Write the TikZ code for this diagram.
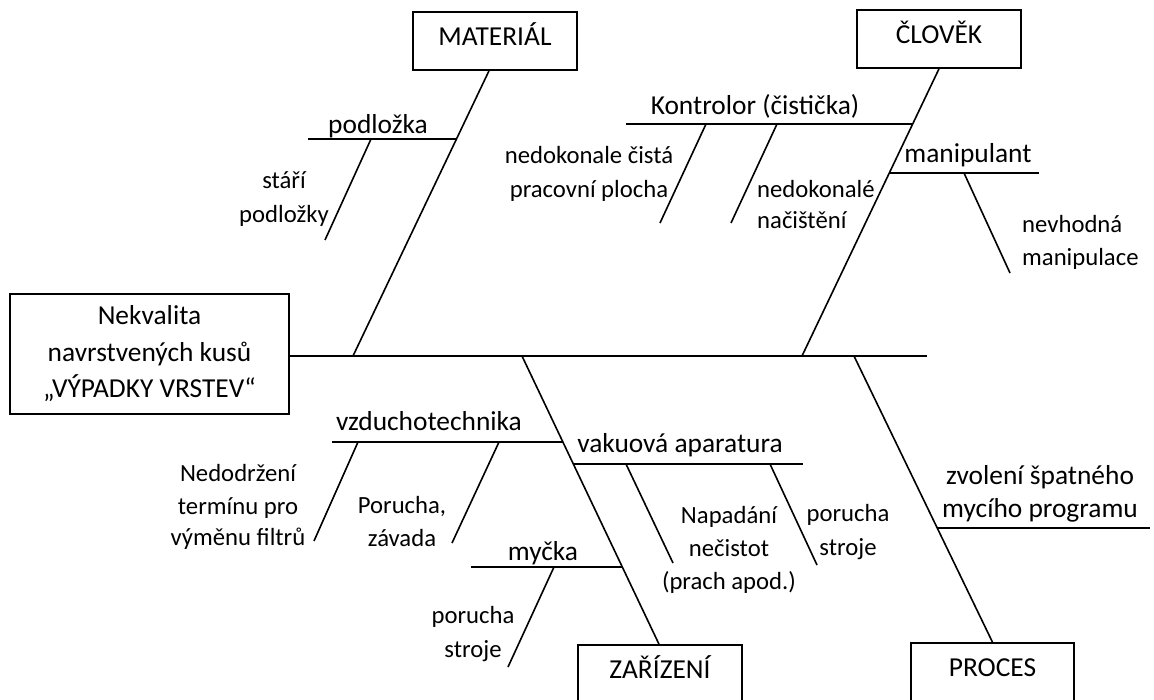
\documentclass[tikz,border=0pt]{standalone}
\usepackage{fontspec}
\setmainfont{Carlito}
\begin{document}
\begin{tikzpicture}[x=1pt,y=-1pt,
  bigf/.style={font=\fontsize{27.4}{33}\selectfont},
  smallf/.style={font=\fontsize{24.7}{33}\selectfont},
  lbl/.style={anchor=base, inner sep=0pt, text=black},
  lblL/.style={anchor=base west, inner sep=0pt, text=black},
  box/.style={draw, line width=1.6pt, inner sep=0pt, minimum height=58pt, minimum width=164pt, text height=20pt, text depth=11pt, bigf},
  bone/.style={draw, line width=1.6pt, line cap=butt}]
\useasboundingbox (0,0) rectangle (1154,699);
\clip (0,0) rectangle (1154,699);

% ---------- boxes ----------
\node[draw, line width=1.6pt, inner sep=0pt, minimum width=279pt, minimum height=120pt, align=center, font=\fontsize{27.4}{36.5}\selectfont] (head) at (149.5,354) {Nekvalita\\navrstvených kusů\\„VÝPADKY VRSTEV“};
\node[box] (mat) at (495,41) {MATERIÁL};
\node[box] (clo) at (939,39) {ČLOVĚK};
\node[box] (zar) at (660,674) {ZAŘÍZENÍ};
\node[box, minimum width=163pt] (pro) at (992.5,672) {PROCES};

% ---------- spine ----------
\coordinate (spS) at (289,356);
\coordinate (spE) at (927,356);
\draw[bone] (spS) -- (spE);

% ---------- main bones ----------
\coordinate (mB) at (353,356);
\coordinate (cB) at (802,356);
\coordinate (zB) at (522,356);
\coordinate (pB) at (854,356);
\draw[bone] ([xshift=-6pt]mat.south) -- (mB);
\draw[bone] (clo.south) -- (cB);
\draw[bone] (zB) -- ([xshift=-1pt]zar.north);
\draw[bone] (pB) -- (pro.north);

% ---------- MATERIAL ----------
\coordinate (podA) at (308,139);
\coordinate (podB) at (456.2,139);
\draw[bone] (podA) -- (podB);
\coordinate (podS1) at (371,139);
\coordinate (podS2) at (325,240);
\draw[bone] (podS1) -- (podS2);
\node[lbl, bigf] (tpod) at (378,133) {podložka};
\node[lbl, smallf] (tst1) at (284,188) {stáří};
\node[lbl, smallf] (tst2) at (284,222) {podložky};

% ---------- CLOVEK ----------
\coordinate (konA) at (626,124);
\coordinate (konB) at (912.4,124);
\draw[bone] (konA) -- (konB);
\coordinate (konS1a) at (706,124);
\coordinate (konS1b) at (660,223);
\draw[bone] (konS1a) -- (konS1b);
\coordinate (konS2a) at (777,124);
\coordinate (konS2b) at (731,223);
\draw[bone] (konS2a) -- (konS2b);
\node[lbl, bigf] (tkon) at (755,114) {Kontrolor (čistička)};
\node[lbl, smallf] (tnc1) at (589,163) {nedokonale čistá};
\node[lbl, smallf] (tnc2) at (589,197) {pracovní plocha};
\node[lblL, smallf] (tnn1) at (757,197) {nedokonalé};
\node[lblL, smallf] (tnn2) at (757,228) {načištění};

\coordinate (manA) at (889.1,173);
\coordinate (manB) at (1039,173);
\draw[bone] (manA) -- (manB);
\coordinate (manS1) at (964,173);
\coordinate (manS2) at (1010,273);
\draw[bone] (manS1) -- (manS2);
\node[lbl, bigf] (tman) at (968,162) {manipulant};
\node[lblL, smallf] (tnv1) at (1022,232) {nevhodná};
\node[lblL, smallf] (tnv2) at (1022,265) {manipulace};

% ---------- ZARIZENI ----------
\coordinate (vzA) at (332,442);
\coordinate (vzB) at (562.8,442);
\draw[bone] (vzA) -- (vzB);
\coordinate (vzS1a) at (358,442);
\coordinate (vzS1b) at (314,541);
\draw[bone] (vzS1a) -- (vzS1b);
\coordinate (vzS2a) at (499,442);
\coordinate (vzS2b) at (452,543);
\draw[bone] (vzS2a) -- (vzS2b);
\node[lbl, bigf] (tvz) at (429,430) {vzduchotechnika};
\node[lbl, smallf] (tnd1) at (238,481) {Nedodržení};
\node[lbl, smallf] (tnd2) at (238,514) {termínu pro};
\node[lbl, smallf] (tnd3) at (238,545) {výměnu filtrů};
\node[lbl, smallf] (tpz1) at (402,513) {Porucha,};
\node[lbl, smallf] (tpz2) at (402,546) {závada};

\coordinate (vaA) at (573.2,464);
\coordinate (vaB) at (803,464);
\draw[bone] (vaA) -- (vaB);
\coordinate (vaS1a) at (626,464);
\coordinate (vaS1b) at (673,563);
\draw[bone] (vaS1a) -- (vaS1b);
\coordinate (vaS2a) at (770,464);
\coordinate (vaS2b) at (817,565);
\draw[bone] (vaS2a) -- (vaS2b);
\node[lbl, bigf] (tva) at (680,452) {vakuová aparatura};
\node[lbl, smallf] (tnp1) at (729,523) {Napadání};
\node[lbl, smallf] (tnp2) at (729,556) {nečistot};
\node[lbl, smallf] (tnp3) at (729,589) {(prach apod.)};
\node[lbl, smallf] (tps1) at (848,521) {porucha};
\node[lbl, smallf] (tps2) at (848,555) {stroje};

\coordinate (myA) at (471,567);
\coordinate (myB) at (622,567);
\draw[bone] (myA) -- (myB);
\coordinate (myS1) at (554,567);
\coordinate (myS2) at (508,667);
\draw[bone] (myS1) -- (myS2);
\node[lbl, bigf] (tmy) at (543,560) {myčka};
\node[lbl, smallf] (tmp1) at (473,623) {porucha};
\node[lbl, smallf] (tmp2) at (473,657) {stroje};

% ---------- PROCES ----------
\coordinate (zvA) at (937.3,528);
\coordinate (zvB) at (1150,528);
\draw[bone] (zvA) -- (zvB);
\node[lbl, bigf] (tzv1) at (1040,484) {zvolení špatného};
\node[lbl, bigf] (tzv2) at (1040,517) {mycího programu};
\end{tikzpicture}
\end{document}
